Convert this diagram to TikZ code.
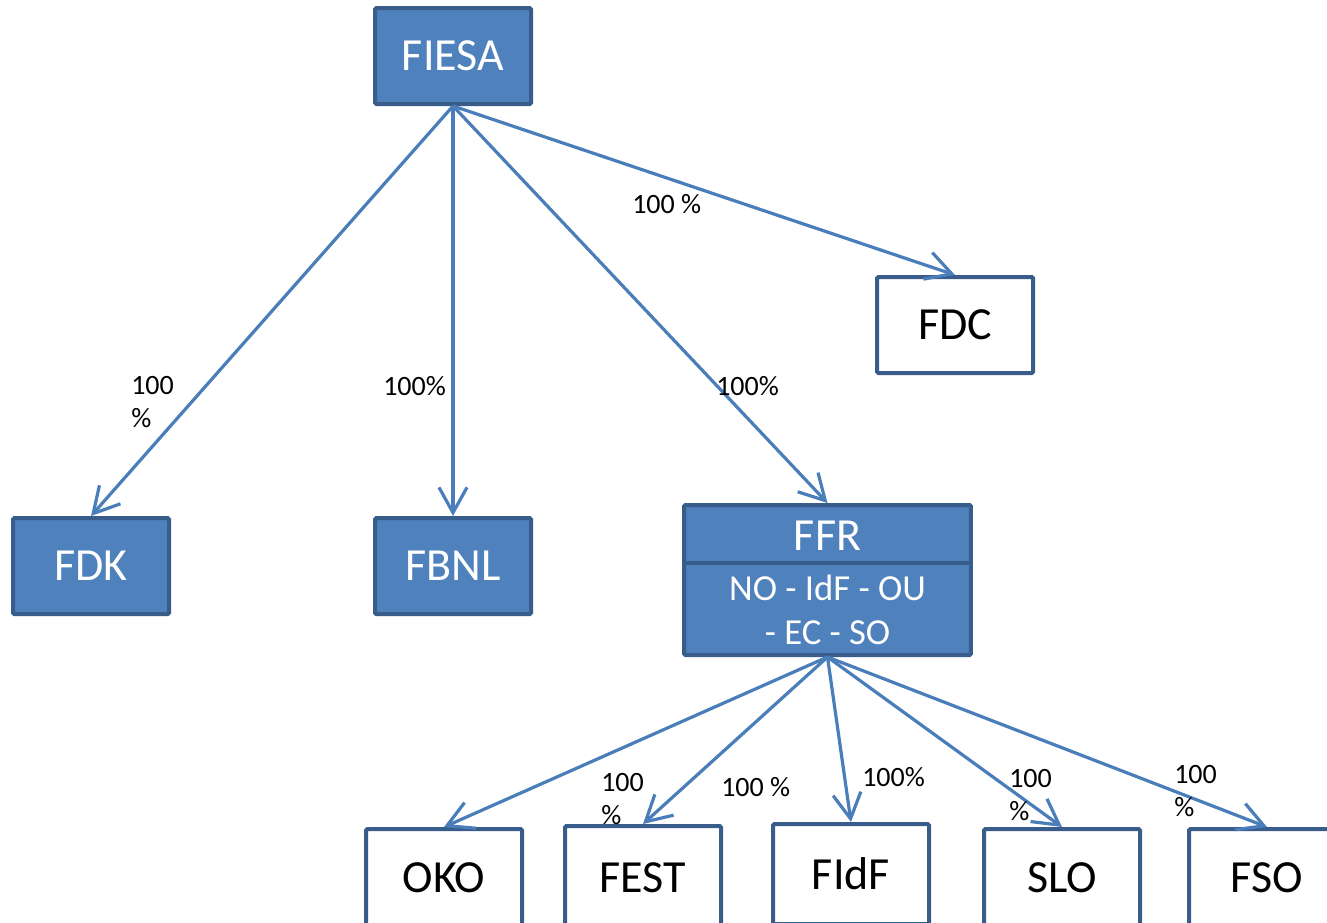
\documentclass[tikz,border=0pt]{standalone}
\usepackage{fontspec}
\setmainfont{Carlito}
\usetikzlibrary{arrows.meta}
\definecolor{boxfill}{HTML}{4F81BD}
\definecolor{boxline}{HTML}{385D8A}
\definecolor{arrowc}{HTML}{4A7EBB}
\tikzset{
  filledbox/.style={draw=boxline, fill=boxfill, line width=3pt, rounded corners=1pt,
    minimum width=117pt, minimum height=72pt, inner sep=0pt, text=white,
    font=\fontsize{34.5}{40}\selectfont},
  whitebox/.style={draw=boxline, fill=white, line width=3pt, rounded corners=1pt,
    minimum width=117pt, minimum height=72pt, inner sep=0pt, text=black,
    font=\fontsize{34.5}{40}\selectfont},
  conn/.style={draw=arrowc, line width=2.4pt,
    -{Straight Barb[length=19pt,width=21pt,line width=2.4pt]}},
  pct/.style={anchor=north west, inner sep=0pt, align=left,
    font=\fontsize{21}{24.5}\selectfont},
}
\begin{document}
\begin{tikzpicture}[x=0.75pt,y=-0.75pt]
\useasboundingbox (0,0) rectangle (1327,922);
\clip (0,0) rectangle (1327,922);
\fill[white] (0,0) rectangle (1327,922);
% top level
\node[filledbox] (fiesa) at (453,56) {FIESA};
\node[whitebox] (fdc) at (955,325) {FDC};
\node[filledbox] (fdk) at (91,566) {FDK};
\node[filledbox] (fbnl) at (453,566) {FBNL};
% FFR box
\node[draw=boxline, fill=boxfill, line width=3pt, rounded corners=1pt,
  minimum width=215pt, minimum height=112.5pt, inner sep=0pt] (ffr) at (827.5,580) {};
\draw[boxline, line width=3pt] (ffr.west |- 0,563) -- (ffr.east |- 0,563);
\node[text=white, font=\fontsize{34.5}{40}\selectfont, inner sep=0pt] (ffrtitle) at (827.5,536) {FFR};
\node[text=white, font=\fontsize{27.5}{33}\selectfont, align=center, inner sep=0pt] (ffrsub) at (827.5,610) {NO - IdF - OU\\- EC - SO};
% bottom level
\node[whitebox, minimum height=73.5pt] (oko) at (444,878) {OKO};
\node[whitebox, minimum height=78pt] (fest) at (643,878) {FEST};
\node[whitebox, minimum height=75pt] (fidf) at (851,874) {FIdF};
\node[whitebox, minimum height=73.5pt] (slo) at (1062,878) {SLO};
\node[whitebox, minimum height=73.5pt] (fso) at (1267,878) {FSO};
% connectors
\draw[conn] (fiesa.south) -- (fdk.north);
\draw[conn] (fiesa.south) -- (fbnl.north);
\draw[conn] (fiesa.south) -- (ffr.north);
\draw[conn] (fiesa.south) -- (fdc.north);
\draw[conn] (ffr.south) -- (oko.north);
\draw[conn] (ffr.south) -- (fest.north);
\draw[conn] (ffr.south) -- (fidf.north);
\draw[conn] (ffr.south) -- (slo.north);
\draw[conn] (ffr.south) -- (fso.north);
% labels
\node[pct] (l1) at (632,194) {100 \%};
\node[pct] (l2) at (131,376) {100\\\%};
\node[pct] (l3) at (383,376) {100\%};
\node[pct] (l4) at (716,376) {100\%};
\node[pct] (l5) at (601,773) {100\\\%};
\node[pct] (l6) at (721,777) {100 \%};
\node[pct] (l7) at (862,767) {100\%};
\node[pct] (l8) at (1009,769) {100\\\%};
\node[pct] (l9) at (1174,765) {100\\\%};
\end{tikzpicture}
\end{document}
